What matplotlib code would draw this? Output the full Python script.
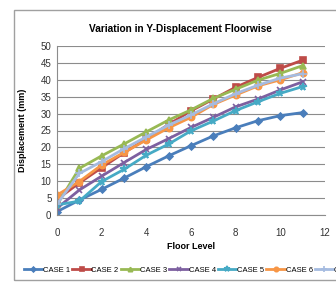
import matplotlib
matplotlib.use("Agg")
from matplotlib import pyplot as plt
from matplotlib.patches import Rectangle

floors = [0, 1, 2, 3, 4, 5, 6, 7, 8, 9, 10, 11]
case1 = [1.0, 4.4, 7.6, 10.9, 14.3, 17.5, 20.5, 23.4, 25.8, 27.9, 29.4, 30.3]
case2 = [4.6, 9.5, 14.0, 18.4, 22.5, 26.8, 30.8, 34.3, 37.8, 40.7, 43.4, 45.8]
case3 = [3.0, 13.8, 17.5, 21.0, 24.6, 28.1, 31.1, 34.5, 37.2, 39.9, 41.9, 44.2]
case4 = [2.0, 7.4, 11.5, 15.5, 19.4, 22.6, 25.9, 28.9, 32.0, 34.3, 37.0, 39.4]
case5 = [3.0, 4.1, 9.9, 13.5, 17.7, 21.0, 24.9, 27.8, 30.9, 33.5, 36.0, 38.0]
case6 = [5.9, 9.9, 14.8, 18.5, 22.2, 25.8, 28.9, 32.7, 35.5, 38.2, 40.0, 42.1]
case7 = [3.2, 12.3, 15.8, 19.6, 23.1, 26.6, 29.6, 32.9, 35.9, 38.4, 40.5, 41.8]
labels = ['CASE 1', 'CASE 2', 'CASE 3', 'CASE 4', 'CASE 5', 'CASE 6', 'CASE 7']

series = [case1, case2, case3, case4, case5, case6, case7]
colors = ['#4a7ebb', '#be4b48', '#98b954', '#7d60a0', '#46aac5', '#f79646', '#a5bbe0']
markers = ['D', 's', '^', 'x', '*', 'o', '+']
msizes = [3.5, 4.5, 4.5, 5, 5.5, 4.5, 6]

plt.rcParams['font.family'] = ['Liberation Sans Narrow', 'Liberation Sans', 'DejaVu Sans']

fig = plt.figure(figsize=(3.36, 2.85), dpi=100)
ax = fig.add_axes([57/336, 70/285, 268/336, 169/285])

# chart border
fig.patches.append(Rectangle((14/336, 5/285), 1.0, 270/285, transform=fig.transFigure,
                             fill=False, edgecolor='#a0a0a0', linewidth=1.0))

for y, lab, c, m, ms in zip(series, labels, colors, markers, msizes):
    ax.plot(floors, y, color=c, marker=m, markersize=ms, linewidth=2,
            markeredgewidth=1.2, label=lab)

ax.set_xlim(0, 12)
ax.set_ylim(0, 50)
ax.set_xticks(range(0, 13, 2))
ax.set_yticks(range(0, 51, 5))
ax.tick_params(length=0, labelsize=7, colors='#333333', pad=4)
ax.tick_params(axis='x', pad=9)
ax.grid(axis='y', color='#8c8c8c', linewidth=0.8)
ax.set_axisbelow(True)
for s in ['top', 'right']:
    ax.spines[s].set_visible(False)
ax.spines['left'].set_color('#8c8c8c')
ax.spines['bottom'].set_color('#8c8c8c')

ax.set_title('Variation in Y-Displacement Floorwise', fontsize=7.3, fontweight='bold',
             pad=10, x=0.46)
ax.set_xlabel('Floor Level', fontsize=6.5, fontweight='bold', labelpad=3)
ax.set_ylabel('Displacement (mm)', fontsize=6.5, fontweight='bold', labelpad=10)

ax.legend(loc='center left', bbox_to_anchor=(-0.135, -0.325), ncol=7, fontsize=5.5,
          frameon=False, handlelength=2.4, handletextpad=0.1, columnspacing=0.3,
          borderaxespad=0, markerscale=0.7)

fig.savefig('out.png', dpi=100)
